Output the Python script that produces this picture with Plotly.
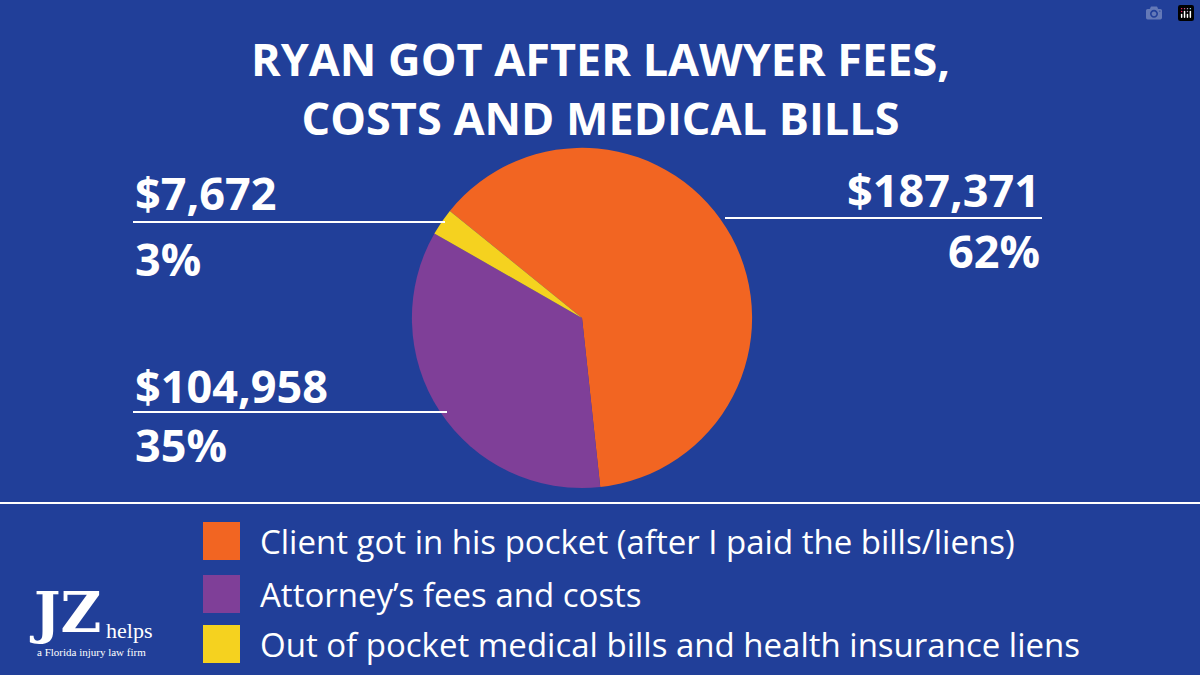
import plotly.graph_objects as go

# slice data
labels = ["Client got in his pocket (after I paid the bills/liens)",
          "Attorney’s fees and costs",
          "Out of pocket medical bills and health insurance liens"]
values = [187371, 104958, 7672]
colors = ["#F26522", "#7F3F98", "#F5D21F"]
amounts = ["$187,371", "$104,958", "$7,672"]
percents = ["62%", "35%", "3%"]

BG = "#213F99"
W, H = 1200, 675

fig = go.Figure(go.Pie(
    labels=labels, values=values, sort=False, direction="clockwise",
    rotation=-51, marker=dict(colors=colors, line=dict(width=0)),
    textinfo="none", hoverinfo="label+value", showlegend=False,
    domain=dict(x=[0.343, 0.627], y=[0.277, 0.781]),
))

shapes = []
ann = []

# title
ann.append(dict(x=0.5, y=1 - 88 / H, xref="paper", yref="paper",
                text="<b>RYAN GOT AFTER LAWYER FEES,<br>COSTS AND MEDICAL BILLS</b>",
                showarrow=False, yanchor="middle",
                font=dict(size=45, color="white", family="Open Sans"),
                align="center"))

# callouts: (amount y, line y, pct y, x0, x1, anchor)
callouts = [
    (190, 218, 250, 725, 1042, "right"),
    (385, 412, 445, 133, 447, "left"),
    (192, 222, 258, 133, 445, "left"),
]
for i, (ay, ly, py, x0, x1, anc) in enumerate(callouts):
    tx = x1 if anc == "right" else x0
    shapes.append(dict(type="line", xref="paper", yref="paper",
                       x0=x0 / W, x1=x1 / W, y0=1 - ly / H, y1=1 - ly / H,
                       line=dict(color="white", width=2)))
    for txt, yy in ((amounts[i], ay), (percents[i], py)):
        ann.append(dict(x=tx / W, y=1 - yy / H, xref="paper", yref="paper",
                        text="<b>" + txt + "</b>", showarrow=False,
                        xanchor=anc, yanchor="middle",
                        font=dict(size=45, color="white", family="Open Sans")))

# divider
shapes.append(dict(type="line", xref="paper", yref="paper", x0=0, x1=1,
                   y0=1 - 503 / H, y1=1 - 503 / H, line=dict(color="white", width=2)))

# legend
for i, yc in enumerate([541, 594, 644]):
    shapes.append(dict(type="rect", xref="paper", yref="paper",
                       x0=203 / W, x1=240 / W, y0=1 - (yc + 19) / H, y1=1 - (yc - 19) / H,
                       fillcolor=colors[i], line=dict(width=0)))
    ann.append(dict(x=258 / W, y=1 - yc / H, xref="paper", yref="paper", text=labels[i],
                    showarrow=False, xanchor="left", yanchor="middle",
                    font=dict(size=33, color="white", family="Open Sans")))

# logo
ann.append(dict(x=27 / W, y=1 - 612 / H, xref="paper", yref="paper", text="<b>JZ</b>",
                showarrow=False, xanchor="left", yanchor="middle",
                font=dict(size=56, color="white", family="DejaVu Serif")))
ann.append(dict(x=104 / W, y=1 - 630 / H, xref="paper", yref="paper", text="helps",
                showarrow=False, xanchor="left", yanchor="middle",
                font=dict(size=22, color="white", family="Liberation Serif")))
ann.append(dict(x=91 / W, y=1 - 652 / H, xref="paper", yref="paper", text="a Florida injury law firm",
                showarrow=False, xanchor="center", yanchor="middle",
                font=dict(size=11, color="white", family="Liberation Serif")))

fig.update_layout(width=W, height=H, paper_bgcolor=BG, plot_bgcolor=BG,
                  margin=dict(l=0, r=0, t=0, b=0), shapes=shapes, annotations=ann)
fig.write_html("out.html")

# drop the default page margin so the figure fills the window
with open("out.html", encoding="utf-8") as f:
    page = f.read()
page = page.replace("<body>", '<body style="margin:0;overflow:hidden">', 1)
with open("out.html", "w", encoding="utf-8") as f:
    f.write(page)
